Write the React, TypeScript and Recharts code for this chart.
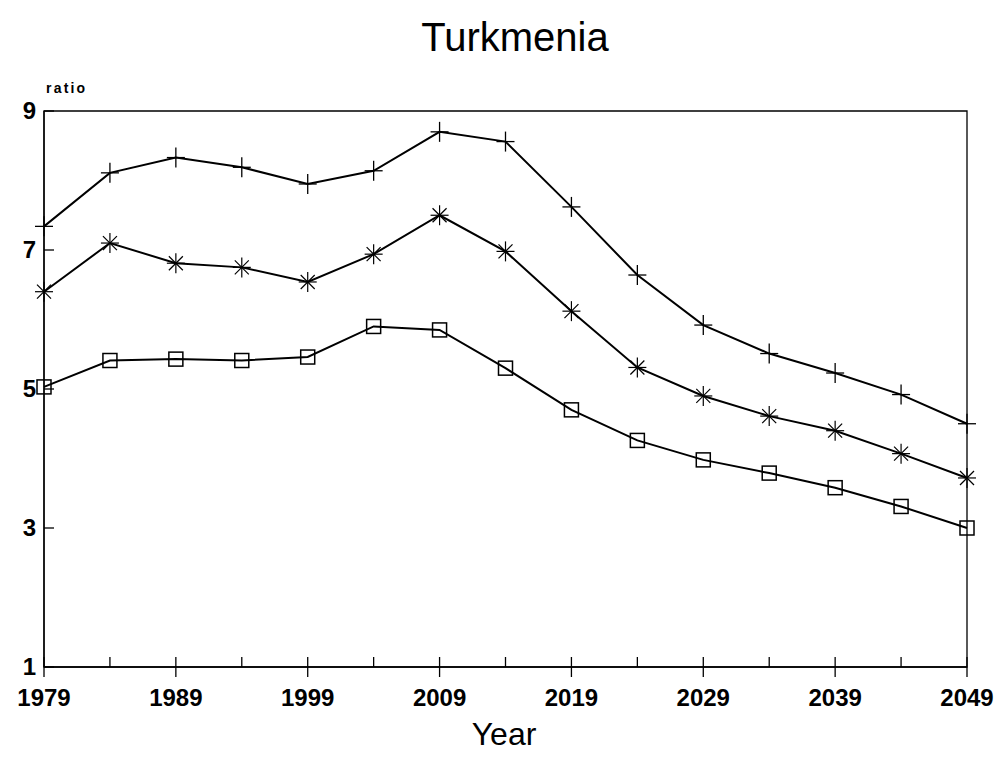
import React from 'react';
import { LineChart, Line, XAxis, YAxis, ReferenceArea } from 'recharts';

const years = [1979, 1984, 1989, 1994, 1999, 2004, 2009, 2014, 2019, 2024, 2029, 2034, 2039, 2044, 2049];
const plusSeries = [7.34, 8.11, 8.33, 8.19, 7.95, 8.14, 8.7, 8.56, 7.62, 6.64, 5.92, 5.51, 5.23, 4.92, 4.5];
const starSeries = [6.4, 7.1, 6.81, 6.75, 6.54, 6.94, 7.5, 6.98, 6.12, 5.31, 4.9, 4.61, 4.4, 4.07, 3.72];
const squareSeries = [5.03, 5.41, 5.43, 5.41, 5.46, 5.9, 5.85, 5.3, 4.7, 4.26, 3.98, 3.79, 3.58, 3.31, 3.0];
const xTicks = [1979, 1984, 1989, 1994, 1999, 2004, 2009, 2014, 2019, 2024, 2029, 2034, 2039, 2044, 2049];
const xLabels = [1979, 1989, 1999, 2009, 2019, 2029, 2039, 2049];
const yTicks = [1, 3, 5, 7, 9];

const data = years.map((y, i) => ({
  year: y,
  plus: plusSeries[i],
  star: starSeries[i],
  square: squareSeries[i],
}));

const FONT = '"Liberation Sans", Arial, sans-serif';

const PlusDot = (p: any) => {
  const { cx, cy } = p;
  if (cx == null || cy == null) return null;
  return (
    <g key={p.key} stroke="#000" strokeWidth={1.3}>
      <line x1={cx} y1={cy - 10} x2={cx} y2={cy + 10} />
      <line x1={cx - 9} y1={cy} x2={cx + 9} y2={cy} />
    </g>
  );
};

const StarDot = (p: any) => {
  const { cx, cy } = p;
  if (cx == null || cy == null) return null;
  return (
    <g key={p.key} stroke="#000" strokeWidth={1.2}>
      <line x1={cx} y1={cy - 10} x2={cx} y2={cy + 10} />
      <line x1={cx - 9} y1={cy} x2={cx + 9} y2={cy} />
      <line x1={cx - 7} y1={cy - 7} x2={cx + 7} y2={cy + 7} />
      <line x1={cx - 7} y1={cy + 7} x2={cx + 7} y2={cy - 7} />
    </g>
  );
};

const SquareDot = (p: any) => {
  const { cx, cy } = p;
  if (cx == null || cy == null) return null;
  return <rect key={p.key} x={cx - 7} y={cy - 7} width={14} height={14} fill="none" stroke="#000" strokeWidth={1.5} />;
};

const renderXTick = (p: any) => {
  const { x, y, payload } = p;
  const major = xLabels.includes(payload.value);
  return (
    <g key={`xt-${payload.value}`}>
      <line x1={x} y1={y - 10} x2={x} y2={major ? y + 10 : y} stroke="#000" strokeWidth={1.3} />
      {major && (
        <text x={x} y={y + 39} textAnchor="middle" fontFamily={FONT} fontSize={24} fontWeight="bold" fill="#000">
          {payload.value}
        </text>
      )}
    </g>
  );
};

const renderYTick = (p: any) => {
  const { x, y, payload } = p;
  return (
    <g key={`yt-${payload.value}`}>
      <line x1={x} y1={y} x2={x + 10} y2={y} stroke="#000" strokeWidth={1.3} />
      <text x={x - 8} y={y + 8} textAnchor="end" fontFamily={FONT} fontSize={24} fontWeight="bold" fill="#000">
        {payload.value}
      </text>
    </g>
  );
};

export default function App() {
  return (
    <div style={{ position: 'relative', width: 1007, height: 760, background: '#fff', fontFamily: FONT }}>
      <style>{`body{margin:0;background:#fff}`}</style>
      <div style={{ position: 'absolute', left: 0, width: 1030, top: 17, textAlign: 'center', fontSize: 40, lineHeight: 1, color: '#000' }}>
        Turkmenia
      </div>
      <div style={{ position: 'absolute', left: 46, top: 81, fontSize: 14, lineHeight: 1, fontWeight: 'bold', letterSpacing: 2.2, color: '#000' }}>
        ratio
      </div>
      <div style={{ position: 'absolute', left: 0, width: 1008, top: 718, textAlign: 'center', fontSize: 32, lineHeight: 1, color: '#000' }}>
        Year
      </div>
      <div style={{ position: 'absolute', left: 0, top: 0 }}>
        <LineChart width={1007} height={760} data={data} margin={{ top: 111, right: 40, bottom: 0, left: 0 }}>
          <ReferenceArea x1={1979} x2={2049} y1={1} y2={9} fill="none" stroke="#000" strokeWidth={1.3} ifOverflow="visible" />
          <XAxis
            dataKey="year"
            type="number"
            domain={[1979, 2049]}
            ticks={xTicks}
            interval={0}
            height={93}
            tickSize={0}
            tickMargin={0}
            tickLine={false}
            axisLine={{ stroke: '#000', strokeWidth: 1.3 }}
            tick={renderXTick}
          />
          <YAxis
            type="number"
            domain={[1, 9]}
            ticks={yTicks}
            interval={0}
            width={44}
            tickSize={0}
            tickMargin={0}
            tickLine={false}
            axisLine={{ stroke: '#000', strokeWidth: 1.3 }}
            tick={renderYTick}
          />
          <Line type="linear" dataKey="plus" stroke="#000" strokeWidth={2} dot={PlusDot} isAnimationActive={false} />
          <Line type="linear" dataKey="star" stroke="#000" strokeWidth={2} dot={StarDot} isAnimationActive={false} />
          <Line type="linear" dataKey="square" stroke="#000" strokeWidth={2} dot={SquareDot} isAnimationActive={false} />
        </LineChart>
      </div>
    </div>
  );
}
